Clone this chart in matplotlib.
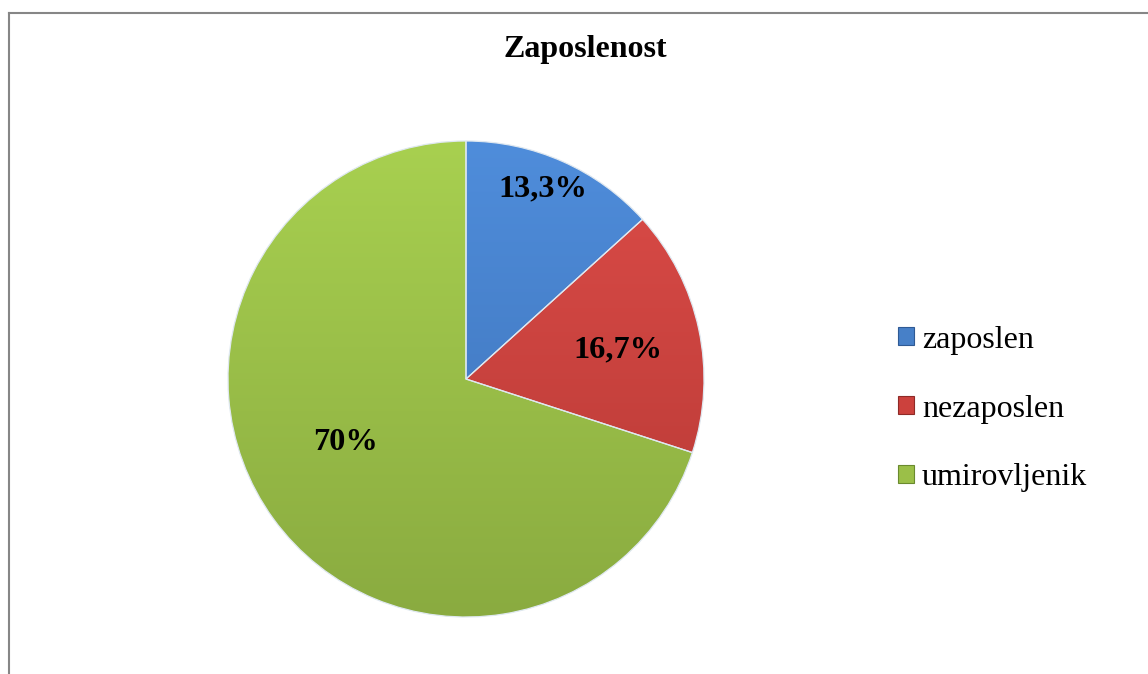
import matplotlib
matplotlib.use("Agg")
import matplotlib.pyplot as plt
from matplotlib.lines import Line2D
from matplotlib.patches import Patch
from matplotlib.colors import to_rgb
import numpy as np

categories = ["zaposlen", "nezaposlen", "umirovljenik"]
values = [13.3, 16.7, 70.0]
value_labels = ["13,3%", "16,7%", "70%"]
title = "Zaposlenost"

colors = ["#4780C8", "#CC413D", "#9BBF48"]
top_colors = ["#4F8DDB", "#DC4C48", "#A8D050"]
bottom_colors = ["#3C70B5", "#B53834", "#8AAB40"]
edge_dark = ["#2F5A94", "#8E2A27", "#6A8A2E"]
# label positions as fractions of the radius (x, y) from centre
label_pos = [(0.321, 0.800), (0.639, 0.122), (-0.508, -0.265)]

W, H = 1148, 674
fig = plt.figure(figsize=(W / 100, H / 100), dpi=100)
fig.patch.set_facecolor("white")

pad = 1.01
cx, cy, r = 466, 379, 238
R = r * pad
ax = fig.add_axes([(cx - R) / W, (H - cy - R) / H, 2 * R / W, 2 * R / H])
wedges, _ = ax.pie(values, colors=colors, startangle=90, counterclock=False,
                   radius=1.0, wedgeprops=dict(edgecolor="#dfe8f0", linewidth=0.9))

# subtle vertical gradient inside each wedge
yy = np.linspace(0, 1, 256)[:, None]
for w, ct, cb in zip(wedges, top_colors, bottom_colors):
    ct, cb = np.array(to_rgb(ct)), np.array(to_rgb(cb))
    img = cb[None, None, :] * (1 - yy[..., None]) + ct[None, None, :] * yy[..., None]
    img = np.repeat(img, 4, axis=1)
    im = ax.imshow(img, extent=(-1, 1, -1, 1), origin="lower", zorder=w.get_zorder() + 0.1,
                   interpolation="bilinear")
    im.set_clip_path(w)
    w.set_zorder(w.get_zorder() + 0.2)
    w.set_facecolor("none")

ax.set_xlim(-pad, pad)
ax.set_ylim(-pad, pad)
ax.set_aspect("equal")
ax.axis("off")

for lab, (px, py) in zip(value_labels, label_pos):
    ax.text(px, py, lab, ha="center", va="center", zorder=10,
            fontsize=23.3, fontweight="bold", family="Liberation Serif", color="black")

fig.text(585.5 / W, 1 - 50 / H, title, ha="center", va="center", fontsize=23,
         fontweight="bold", family="Liberation Serif")

handles = [Patch(facecolor=c, edgecolor=e, linewidth=0.8) for c, e in zip(colors, edge_dark)]
leg = fig.legend(handles, categories, loc="center left",
                 bbox_to_anchor=(898 / W, 1 - 409 / H), frameon=False,
                 prop=dict(family="Liberation Serif", size=23),
                 handlelength=0.5, handleheight=0.5, handletextpad=0.25,
                 labelspacing=1.25, borderpad=0, borderaxespad=0)

# chart border (left and top visible)
fig.add_artist(Line2D([8.5 / W, 8.5 / W], [0, 1 - 12.5 / H], transform=fig.transFigure,
                      color="#868686", linewidth=1.5))
fig.add_artist(Line2D([8.5 / W, 1], [1 - 12.5 / H, 1 - 12.5 / H], transform=fig.transFigure,
                      color="#868686", linewidth=1.5))

fig.savefig("out.png", dpi=100)
